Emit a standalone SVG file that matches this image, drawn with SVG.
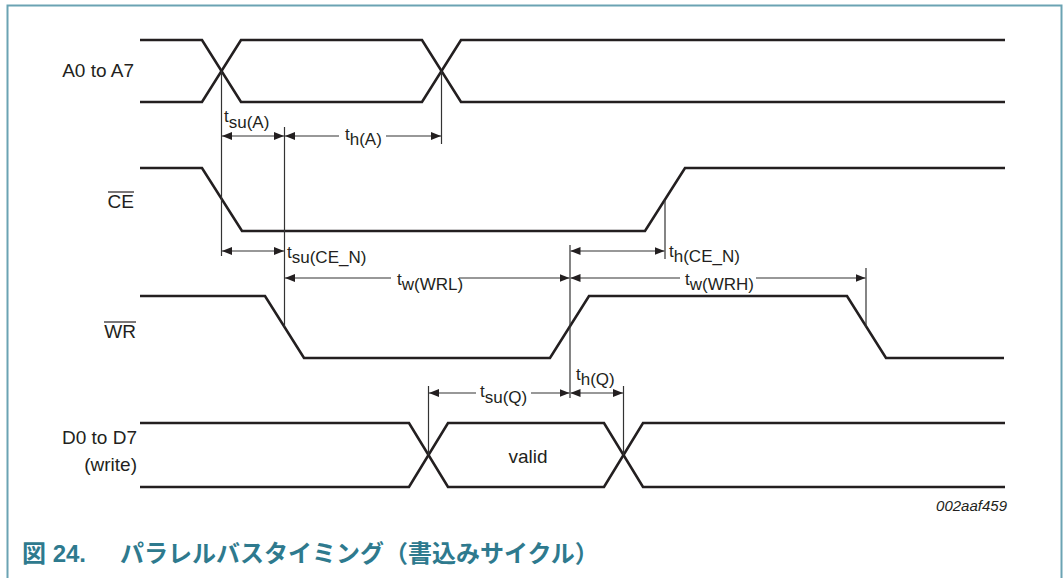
<svg xmlns="http://www.w3.org/2000/svg" width="1064" height="578" viewBox="0 0 1064 578">
<style>
.wave{fill:none;stroke:#231f20;stroke-width:2.6;stroke-linejoin:miter}
.ext{fill:none;stroke:#333;stroke-width:1.2}
.dim{fill:none;stroke:#333;stroke-width:1.1;marker-start:url(#ah);marker-end:url(#ah)}
.lbl{font-family:"Liberation Sans",Arial,sans-serif;font-size:19px;fill:#231f20}
.t{font-family:"Liberation Sans",Arial,sans-serif;font-size:17px;fill:#231f20}
.gap{fill:#fff}
.cap{font-family:"Liberation Sans","Noto Sans CJK JP",sans-serif;font-size:24px;font-weight:bold;fill:#2e7a8e}
.ov{stroke:#231f20;stroke-width:1.2}
</style>
<defs>
<marker id="ah" markerWidth="10" markerHeight="8" refX="10" refY="4" orient="auto-start-reverse" markerUnits="userSpaceOnUse">
<path d="M0,0 L10,4 L0,8 z" fill="#231f20"/>
</marker>
</defs>
<rect width="1064" height="578" fill="#fff"/>
<polyline points="7.5,578 7.5,5.5 1061.5,5.5 1061.5,578" fill="none" stroke="#6ba3b3" stroke-width="2"/>

<g id="sig-a">
<text class="lbl" x="134" y="77" text-anchor="end">A0 to A7</text>
<polyline class="wave" points="140,40 202,40 241,102 422,102 461,40 1005,40"/>
<polyline class="wave" points="140,102 202,102 241,40 422,40 461,102 1005,102"/>
</g>
<g id="sig-ce">
<text class="lbl" x="134" y="208" text-anchor="end">CE</text>
<line class="ov" x1="108" y1="192" x2="134" y2="192"/>
<polyline class="wave" points="140,168 202,168 242,231 645,231 685,168 1005,168"/>
</g>
<g id="sig-wr">
<text class="lbl" x="136" y="338" text-anchor="end">WR</text>
<line class="ov" x1="104" y1="322" x2="136" y2="322"/>
<polyline class="wave" points="140,296 265,296 304,358 550,358 589,296 847,296 886,358 1004,358"/>
</g>
<g id="sig-d">
<text class="lbl" x="137" y="444" text-anchor="end">D0 to D7</text>
<text class="lbl" x="137" y="471" text-anchor="end">(write)</text>
<polyline class="wave" points="140,423 409,423 448,487 604,487 643,423 1005,423"/>
<polyline class="wave" points="140,487 409,487 448,423 604,423 643,487 1005,487"/>
<text class="lbl" x="528" y="463" text-anchor="middle">valid</text>
</g>

<g id="connectors">
<line class="ext" x1="221.5" y1="71" x2="221.5" y2="256"/>
<line class="ext" x1="284.5" y1="127" x2="284.5" y2="327"/>
<line class="ext" x1="441.5" y1="71" x2="441.5" y2="144"/>
<line class="ext" x1="665" y1="200" x2="665" y2="259"/>
<line class="ext" x1="570" y1="245" x2="570" y2="398"/>
<line class="ext" x1="866" y1="268" x2="866" y2="327"/>
<line class="ext" x1="428.5" y1="386" x2="428.5" y2="455"/>
<line class="ext" x1="623.5" y1="386" x2="623.5" y2="455"/>

<line class="dim" x1="222" y1="136" x2="284" y2="136"/>
<line class="dim" x1="285" y1="136" x2="441" y2="136"/>
<line class="dim" x1="222" y1="251" x2="284" y2="251"/>
<line class="dim" x1="570.5" y1="251" x2="664.5" y2="251"/>
<line class="dim" x1="285" y1="278" x2="569.5" y2="278"/>
<line class="dim" x1="570.5" y1="278" x2="865.5" y2="278"/>
<line class="dim" x1="429" y1="393" x2="569.5" y2="393"/>
<line class="dim" x1="570.5" y1="393" x2="623" y2="393"/>

<rect class="gap" x="339" y="128" width="47" height="16"/>
<rect class="gap" x="391" y="270" width="68" height="16"/>
<rect class="gap" x="680" y="270" width="76" height="16"/>
<rect class="gap" x="476" y="385" width="55" height="16"/>
</g>

<g id="labels">
<text class="t" x="224" y="122">t<tspan dy="6">su(A)</tspan></text>
<text class="t" x="345" y="140">t<tspan dy="5">h(A)</tspan></text>
<text class="t" x="287" y="258">t<tspan dy="5">su(CE_N)</tspan></text>
<text class="t" x="669" y="257">t<tspan dy="5">h(CE_N)</tspan></text>
<text class="t" x="397" y="285">t<tspan dy="5">w(WRL)</tspan></text>
<text class="t" x="685" y="285">t<tspan dy="5">w(WRH)</tspan></text>
<text class="t" x="480" y="397">t<tspan dy="6">su(Q)</tspan></text>
<text class="t" x="576" y="380">t<tspan dy="5">h(Q)</tspan></text>
<text x="1007" y="511" text-anchor="end" style="font-family:'Liberation Sans',Arial,sans-serif;font-size:15px;font-style:italic;fill:#231f20">002aaf459</text>
</g>

<text class="cap" x="22" y="562">図 24.<tspan x="120">パラレルバスタイミング（書込みサイクル）</tspan></text>
</svg>
